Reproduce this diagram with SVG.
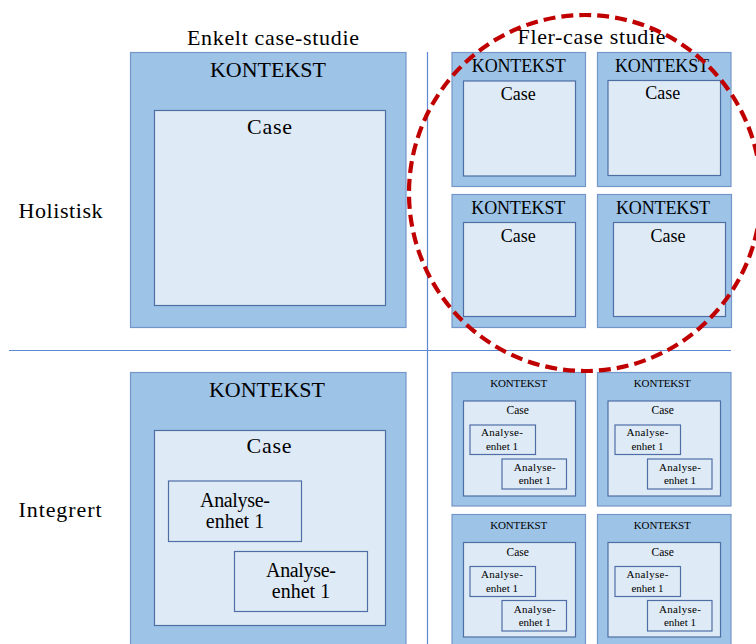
<svg xmlns="http://www.w3.org/2000/svg" width="756" height="644" viewBox="0 0 756 644">
  <style>
    text { font-family: "Liberation Serif", "DejaVu Serif", serif; fill: #000; text-anchor: middle; }
    .ctx { fill: #9DC3E6; stroke: #7596C8; stroke-width: 1.2; }
    .case { fill: #DEEAF6; stroke: #4F6EA6; stroke-width: 1.2; }
    .unit { fill: #DEEAF6; stroke: #4F6EA6; stroke-width: 1.2; }
    .axis { stroke: #5E88D2; stroke-width: 1.2; fill: none; }
    .lbl { font-size: 22px; }
    .big { font-size: 22px; }
    .mid { font-size: 18px; }
    .unitbig { font-size: 20px; }
    .sm { font-size: 11.5px; }
    .xs { font-size: 11px; }
    .ring { fill: none; stroke: #C00000; stroke-width: 4.2; stroke-dasharray: 12 6; }
  </style>

  <!-- quadrant dividers -->
  <g id="grid">
    <line class="axis" x1="9" y1="350.5" x2="731" y2="350.5"/>
    <line class="axis" x1="427.5" y1="52" x2="427.5" y2="644"/>
  </g>

  <!-- axis headings -->
  <g id="headings">
    <text class="lbl" x="273" y="45" textLength="172">Enkelt case-studie</text>
    <text class="lbl" x="591.5" y="44" textLength="148">Fler-case studie</text>
    <text class="lbl" x="18.5" y="218" style="text-anchor:start" textLength="84">Holistisk</text>
    <text class="lbl" x="18.5" y="517" style="text-anchor:start" textLength="83">Integrert</text>
  </g>

  <!-- single case, holistic -->
  <g id="single-holistic">
    <rect class="ctx" x="130.5" y="52.5" width="275.5" height="275"/>
    <text class="big" x="268" y="77" textLength="116">KONTEKST</text>
    <rect class="case" x="154.5" y="110.5" width="231" height="195"/>
    <text class="big" x="269.5" y="134" textLength="45">Case</text>
  </g>

  <!-- multiple case, holistic -->
  <g id="multi-holistic-1">
    <rect class="ctx" x="452" y="52.5" width="133.5" height="134"/>
    <text class="mid" x="518.8" y="72" textLength="94">KONTEKST</text>
    <rect class="case" x="463.5" y="81" width="112" height="95"/>
    <text class="mid" x="518.3" y="100" textLength="35">Case</text>
  </g>
  <g id="multi-holistic-2">
    <rect class="ctx" x="597.5" y="52.5" width="133.5" height="134"/>
    <text class="mid" x="662" y="72" textLength="94">KONTEKST</text>
    <rect class="case" x="608" y="80.5" width="112.5" height="95"/>
    <text class="mid" x="662.7" y="99" textLength="35">Case</text>
  </g>
  <g id="multi-holistic-3">
    <rect class="ctx" x="452" y="194.5" width="133.5" height="133"/>
    <text class="mid" x="518.3" y="213.5" textLength="94">KONTEKST</text>
    <rect class="case" x="463.5" y="222.5" width="112" height="94"/>
    <text class="mid" x="518.3" y="241.5" textLength="35">Case</text>
  </g>
  <g id="multi-holistic-4">
    <rect class="ctx" x="597.5" y="194.5" width="134" height="133"/>
    <text class="mid" x="663" y="213.5" textLength="94">KONTEKST</text>
    <rect class="case" x="613.5" y="222.5" width="112" height="94"/>
    <text class="mid" x="668" y="241.5" textLength="35">Case</text>
  </g>

  <!-- single case, embedded -->
  <g id="single-embedded">
    <rect class="ctx" x="130.5" y="372.5" width="275.5" height="280"/>
    <text class="big" x="267" y="397" textLength="116">KONTEKST</text>
    <rect class="case" x="154.5" y="430.5" width="231" height="195"/>
    <text class="big" x="269" y="453" textLength="45">Case</text>
    <rect class="unit" x="168.5" y="481" width="133" height="60.5"/>
    <text class="unitbig" x="235" y="506.5" textLength="70">Analyse-</text>
    <text class="unitbig" x="235" y="528">enhet 1</text>
    <rect class="unit" x="234.5" y="551.5" width="133" height="60"/>
    <text class="unitbig" x="301" y="576.5" textLength="70">Analyse-</text>
    <text class="unitbig" x="301" y="598">enhet 1</text>
  </g>

  <!-- multiple case, embedded -->
  <g id="multi-embedded-1">
    <rect class="ctx" x="452" y="372.5" width="133.5" height="133.5"/>
    <text class="xs" x="518.7" y="386.5" textLength="57">KONTEKST</text>
    <rect class="case" x="463.5" y="401" width="112" height="95"/>
    <text class="sm" x="517.7" y="414">Case</text>
    <rect class="unit" x="470" y="425" width="65.5" height="29.5"/>
    <text class="xs" x="502" y="436" textLength="42">Analyse-</text>
    <text class="xs" x="502" y="449.5">enhet 1</text>
    <rect class="unit" x="502" y="459" width="64.5" height="30"/>
    <text class="xs" x="534.7" y="470.5" textLength="42">Analyse-</text>
    <text class="xs" x="534.7" y="483.5">enhet 1</text>
  </g>
  <g id="multi-embedded-2">
    <rect class="ctx" x="597.5" y="372.5" width="133.5" height="133.5"/>
    <text class="xs" x="662.3" y="386.5" textLength="57">KONTEKST</text>
    <rect class="case" x="608" y="401" width="112.5" height="95"/>
    <text class="sm" x="662.7" y="414">Case</text>
    <rect class="unit" x="615" y="425" width="65.5" height="29.5"/>
    <text class="xs" x="647.5" y="436" textLength="42">Analyse-</text>
    <text class="xs" x="647.5" y="449.5">enhet 1</text>
    <rect class="unit" x="647.5" y="459" width="64.5" height="30"/>
    <text class="xs" x="680" y="470.5" textLength="42">Analyse-</text>
    <text class="xs" x="680" y="483.5">enhet 1</text>
  </g>
  <g id="multi-embedded-3">
    <rect class="ctx" x="452" y="514.5" width="133.5" height="140"/>
    <text class="xs" x="518.7" y="528.5" textLength="57">KONTEKST</text>
    <rect class="case" x="463.5" y="542.5" width="112" height="94.5"/>
    <text class="sm" x="517.7" y="556">Case</text>
    <rect class="unit" x="470" y="566.5" width="65.5" height="30"/>
    <text class="xs" x="502" y="578" textLength="42">Analyse-</text>
    <text class="xs" x="502" y="591.5">enhet 1</text>
    <rect class="unit" x="502" y="600.5" width="64.5" height="30.5"/>
    <text class="xs" x="534.7" y="612.5" textLength="42">Analyse-</text>
    <text class="xs" x="534.7" y="625.5">enhet 1</text>
  </g>
  <g id="multi-embedded-4">
    <rect class="ctx" x="597.5" y="514.5" width="133.5" height="140"/>
    <text class="xs" x="662.3" y="528.5" textLength="57">KONTEKST</text>
    <rect class="case" x="608" y="542.5" width="112.5" height="94.5"/>
    <text class="sm" x="662.7" y="556">Case</text>
    <rect class="unit" x="615" y="566.5" width="65.5" height="30"/>
    <text class="xs" x="647.5" y="578" textLength="42">Analyse-</text>
    <text class="xs" x="647.5" y="591.5">enhet 1</text>
    <rect class="unit" x="647.5" y="600.5" width="64.5" height="30.5"/>
    <text class="xs" x="680" y="612.5" textLength="42">Analyse-</text>
    <text class="xs" x="680" y="625.5">enhet 1</text>
  </g>

  <!-- highlight ring around the holistic multiple-case quadrant -->
  <g id="highlight">
    <ellipse class="ring" cx="585" cy="193" rx="176" ry="178"/>
  </g>
</svg>
